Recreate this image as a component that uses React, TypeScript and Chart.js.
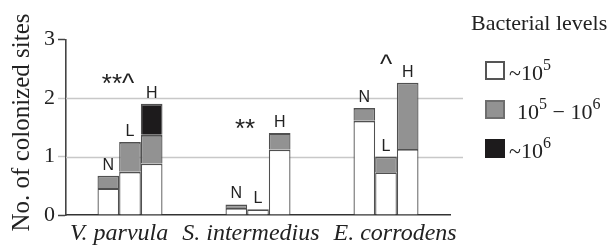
import React, { useEffect, useRef } from 'react';
import { Chart, registerables } from 'chart.js';

Chart.register(...registerables);

// ---- data ----
const groups = ['V. parvula', 'S. intermedius', 'E. corrodens'];
const barCodes = ['N', 'L', 'H'];
const levelColors = ['#ffffff', '#929292', '#1d1b1c'];
const levelBorders = ['#505050', '#505050', '#505050'];

// values per bar code (N, L, H) for each group, one array per bacterial level
const lowN = [0.46, 0.12, 1.61];
const midN = [0.21, 0.06, 0.22];
const highN = [0, 0, 0];
const lowL = [0.74, 0.1, 0.73];
const midL = [0.51, 0, 0.27];
const highL = [0, 0, 0];
const lowH = [0.88, 1.12, 1.13];
const midH = [0.49, 0.28, 1.13];
const highH = [0.53, 0, 0];

// significance marks: text, value (glyph centre) and position between N (0) and L (1) bar
const sigMarks = ['**^', '**', '^'];
const sigValues = [2.31, 1.54, 2.63];
const sigBetween = [0.45, 0.4, 1];

const yTickValues = [0, 1, 2, 3];
const yGridValues = [1, 2];
const yTitle = 'No. of colonized sites';
const legendTitle = 'Bacterial levels';
// legend labels as [text, isSuperscript] segments
const legendLabels: [string, boolean][][] = [
  [['~10', false], ['5', true]],
  [['10', false], ['5', true], [' \u2212 10', false], ['6', true]],
  [['~10', false], ['6', true]],
];

const levelsByCode = [
  [lowN, midN, highN],
  [lowL, midL, highL],
  [lowH, midH, highH],
];

const SERIF = '"Liberation Serif", "Times New Roman", serif';
const SANS = '"Liberation Sans", Arial, sans-serif';

export default function App() {
  const ref = useRef<HTMLCanvasElement | null>(null);

  useEffect(() => {
    let chart: any = null;
    let cancelled = false;

    const build = () => {
      if (cancelled || !ref.current) return;
      const datasets: any[] = [];
      barCodes.forEach((code, k) => {
        levelsByCode[k].forEach((arr, lvl) => {
          datasets.push({
            label: code + lvl,
            stack: code,
            data: arr.map((v) => (v === 0 ? null : v)),
            backgroundColor: levelColors[lvl],
            borderColor: levelBorders[lvl],
            borderWidth: { top: 1.8, left: 1.3, right: 1.3, bottom: 0 },
            borderSkipped: false,
            barPercentage: 1,
            categoryPercentage: 0.508,
          });
        });
      });

      const gridPlugin = {
        id: 'extGrid',
        beforeDatasetsDraw(c: any) {
          const { ctx, chartArea, scales } = c;
          ctx.save();
          ctx.strokeStyle = '#c8c8c8';
          ctx.lineWidth = 1.5;
          yGridValues.forEach((v) => {
            const y = Math.round(scales.y.getPixelForValue(v)) + 0.5;
            ctx.beginPath();
            ctx.moveTo(chartArea.left, y);
            ctx.lineTo(chartArea.right + 13, y);
            ctx.stroke();
          });
          ctx.restore();
        },
      };

      const labelPlugin = {
        id: 'barLabels',
        afterDatasetsDraw(c: any) {
          const { ctx, scales, chartArea } = c;
          ctx.save();
          ctx.fillStyle = '#222';
          ctx.font = '16px ' + SANS;
          ctx.textAlign = 'center';
          ctx.textBaseline = 'alphabetic';
          barCodes.forEach((code, k) => {
            const meta = c.getDatasetMeta(k * 3);
            groups.forEach((g, i) => {
              const total = levelsByCode[k].reduce((s, arr) => s + arr[i], 0);
              const x = meta.data[i].x;
              const y = scales.y.getPixelForValue(total);
              ctx.fillText(code, x, y - 6);
            });
          });
          ctx.font = '26px ' + SANS;
          const metaN = c.getDatasetMeta(0);
          const metaL = c.getDatasetMeta(3);
          sigMarks.forEach((m, i) => {
            const xN = metaN.data[i].x;
            const xL = metaL.data[i].x;
            const x = xN + sigBetween[i] * (xL - xN);
            ctx.fillText(m, x, scales.y.getPixelForValue(sigValues[i]) + 12);
          });
          // x category labels
          ctx.font = 'italic 24px ' + SERIF;
          ctx.textAlign = 'left';
          let x = chartArea.left + 4;
          groups.forEach((g) => {
            ctx.fillText(g, x, chartArea.bottom + 25);
            x += ctx.measureText(g).width + 14;
          });
          // y axis title
          ctx.save();
          ctx.translate(22, 122.5);
          ctx.rotate(-Math.PI / 2);
          ctx.font = '25px ' + SERIF;
          ctx.textAlign = 'center';
          ctx.textBaseline = 'middle';
          ctx.fillText(yTitle, 0, 0);
          ctx.restore();
          ctx.restore();
        },
      };

      const legendPlugin = {
        id: 'levelLegend',
        afterDraw(c: any) {
          const { ctx } = c;
          ctx.save();
          ctx.fillStyle = '#222';
          ctx.textAlign = 'left';
          ctx.textBaseline = 'alphabetic';
          ctx.font = '22px ' + SERIF;
          ctx.fillText(legendTitle, 471, 30);
          legendLabels.forEach((segs, i) => {
            const top = 61 + i * 39;
            ctx.fillStyle = levelColors[i];
            ctx.fillRect(485, top, 20, 19);
            ctx.strokeStyle = i === 2 ? levelColors[2] : i === 1 ? '#6e6e6e' : '#555';
            ctx.lineWidth = 2;
            ctx.strokeRect(486, top + 1, 18, 17);
            ctx.fillStyle = '#222';
            let x = i === 1 ? 517 : 509;
            const base = top + 19;
            segs.forEach(([t, sup]) => {
              ctx.font = (sup ? '16px ' : '22px ') + SERIF;
              ctx.fillText(t, x, sup ? base - 10 : base);
              x += ctx.measureText(t).width;
            });
          });
          ctx.restore();
        },
      };

      chart = new Chart(ref.current, {
        type: 'bar',
        data: { labels: groups, datasets },
        options: {
          animation: false,
          responsive: false,
          devicePixelRatio: 1,
          layout: { padding: { left: 0, top: 39.5, right: 164, bottom: 0 } },
          plugins: { legend: { display: false }, tooltip: { enabled: false } },
          scales: {
            x: {
              type: 'category',
              stacked: true,
              grid: { display: false },
              ticks: { display: false },
              border: { display: true, color: '#333', width: 1.6 },
              afterFit: (s: any) => {
                s.height = 31;
              },
            },
            y: {
              stacked: true,
              min: 0,
              max: 3,
              afterBuildTicks: (s: any) => {
                s.ticks = yTickValues.map((v) => ({ value: v }));
              },
              ticks: {
                font: { family: SERIF, size: 22 },
                color: '#222',
                padding: 3,
              },
              grid: {
                drawOnChartArea: false,
                drawTicks: true,
                tickLength: 8,
                tickWidth: 1.5,
                tickColor: (cx: any) =>
                  cx.tick && yGridValues.includes(cx.tick.value) ? '#c8c8c8' : '#444',
              },
              border: { display: true, color: '#444', width: 1.6 },
              title: { display: false },
              afterFit: (s: any) => {
                s.width = 66;
              },
            },
          },
        },
        plugins: [gridPlugin, labelPlugin, legendPlugin],
      });
    };

    const fonts: any = (document as any).fonts;
    if (fonts && fonts.load) {
      Promise.all([
        fonts.load('22px "Liberation Serif"'),
        fonts.load('italic 24px "Liberation Serif"'),
        fonts.load('16px "Liberation Sans"'),
      ])
        .catch(() => null)
        .then(build);
    } else {
      build();
    }

    return () => {
      cancelled = true;
      if (chart) chart.destroy();
    };
  }, []);

  return (
    <div style={{ position: 'fixed', left: 0, top: 0, width: 614, height: 246, background: '#fff' }}>
      <canvas ref={ref} width={614} height={246} />
    </div>
  );
}
